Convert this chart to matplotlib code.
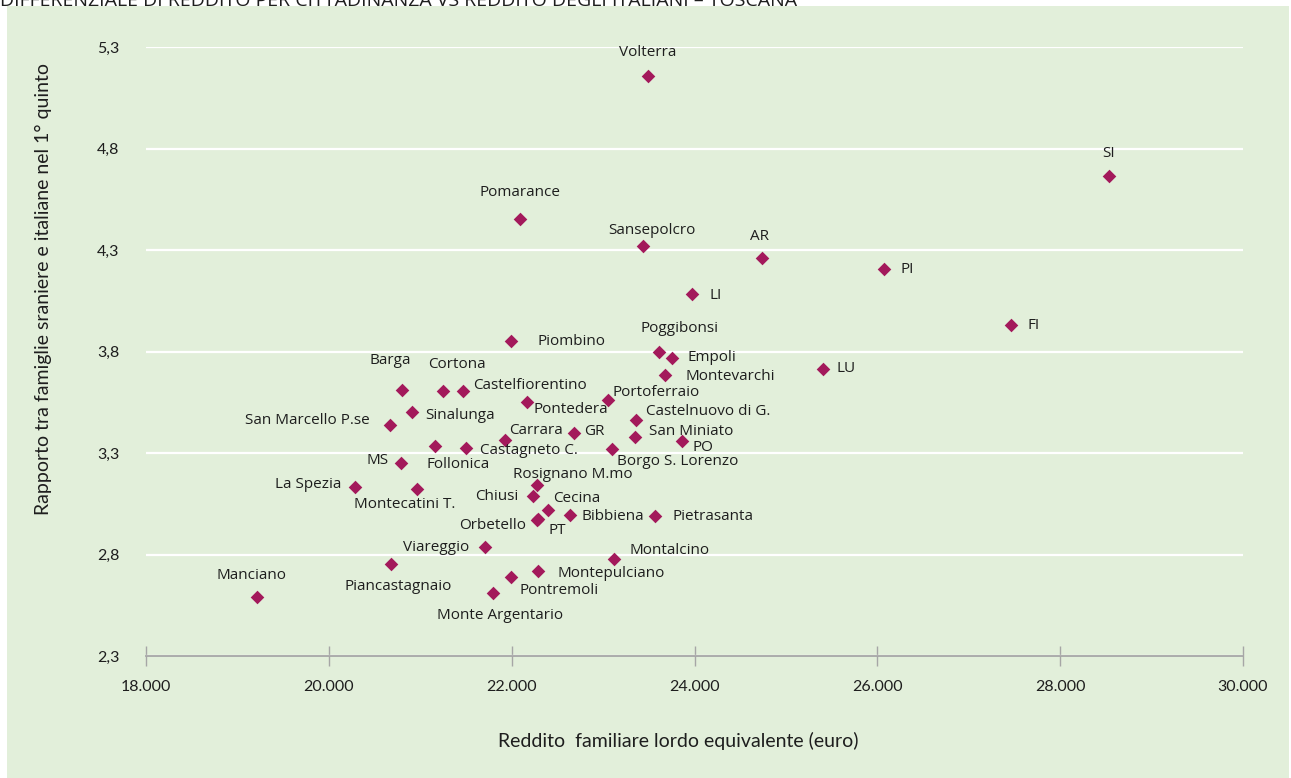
import numpy as np
import matplotlib.pyplot as plt
from matplotlib.patches import Rectangle
from matplotlib.ticker import FuncFormatter, MultipleLocator

# =========================
# dati: reddito familiare lordo equivalente vs rapporto 1° quinto
# =========================
comuni = [
    "Volterra", "SI", "Pomarance", "Sansepolcro", "AR", "PI", "LI", "FI",
    "Piombino", "Poggibonsi", "Empoli", "LU", "Montevarchi", "Barga",
    "Cortona", "Castelfiorentino", "Portoferraio", "Pontedera", "Sinalunga",
    "Castelnuovo di G.", "San Marcello P.se", "GR", "San Miniato", "Carrara",
    "PO", "Follonica", "Castagneto C.", "Borgo S. Lorenzo", "MS",
    "Rosignano M.mo", "La Spezia", "Montecatini T.", "Chiusi", "Cecina",
    "Bibbiena", "Pietrasanta", "PT", "Orbetello", "Viareggio", "Montalcino",
    "Piancastagnaio", "Montepulciano", "Pontremoli", "Monte Argentario",
    "Manciano",
]
reddito = [
    23491, 28534, 22091, 23436, 24738, 26073, 23972, 27462,
    21993, 23611, 23754, 25405, 23677, 20800,
    21249, 21468, 23054, 22168, 20910,
    23360, 20669, 22682, 23349, 21927,
    23863, 21161, 21500, 23097, 20789,
    22277, 20286, 20964, 22233, 22397,
    22638, 23568, 22288, 22280, 21708, 23119,
    20680, 22288, 21993, 21796,
    19214,
]
rapporto = [
    5.157, 4.665, 4.453, 4.320, 4.261, 4.206, 4.083, 3.930,
    3.852, 3.798, 3.768, 3.714, 3.684, 3.610,
    3.605, 3.605, 3.561, 3.551, 3.502,
    3.463, 3.438, 3.399, 3.379, 3.364,
    3.359, 3.334, 3.325, 3.320, 3.251,
    3.142, 3.133, 3.123, 3.088, 3.019,
    2.995, 2.990, 2.975, 2.972, 2.837, 2.778,
    2.753, 2.719, 2.689, 2.610,
    2.591,
]
y_ticks = [2.3, 2.8, 3.3, 3.8, 4.3, 4.8, 5.3]

# spostamento delle etichette rispetto al punto (pixel: destra, su)
offset = {
    "Volterra": (0, 24), "SI": (0, 22), "Pomarance": (0, 26),
    "Sansepolcro": (9, 15), "AR": (-2, 21), "PI": (23, 0), "LI": (24, -1),
    "FI": (23, 0), "Piombino": (60, -1), "Poggibonsi": (21, 23),
    "Empoli": (40, 0), "LU": (23, 0), "Montevarchi": (65, -1),
    "Barga": (-12, 30), "Cortona": (14, 27), "Castelfiorentino": (67, 6),
    "Portoferraio": (48, 8), "Pontedera": (44, -7), "Sinalunga": (48, -4),
    "Castelnuovo di G.": (72, 8), "San Marcello P.se": (-83, 4),
    "GR": (20, 1), "San Miniato": (56, 5), "Carrara": (31, 10),
    "PO": (21, -6), "Follonica": (23, -18), "Castagneto C.": (63, -3),
    "Borgo S. Lorenzo": (66, -13), "MS": (-23, 2),
    "Rosignano M.mo": (36, 11), "La Spezia": (-47, 2),
    "Montecatini T.": (-12, -16), "Chiusi": (-36, 0), "Cecina": (29, 12),
    "Bibbiena": (43, -2), "Pietrasanta": (58, -1), "PT": (19, -12),
    "Orbetello": (-45, -6), "Viareggio": (-49, -1), "Montalcino": (56, 8),
    "Piancastagnaio": (7, -22), "Montepulciano": (73, -3),
    "Pontremoli": (48, -13), "Monte Argentario": (7, -22),
    "Manciano": (-5, 21),
}

VERDE = "#E2EFDA"
PUNTO = "#A3195B"
TESTO = "#1E1E1E"
GRIGIO = "#A6A6A6"

W, H = 1291, 778
fig = plt.figure(figsize=(W / 100, H / 100), dpi=100)
fig.patch.set_facecolor("white")
fig.patches.append(Rectangle((7 / W, 0), (W - 9) / W, (H - 6) / H,
                             transform=fig.transFigure, facecolor=VERDE,
                             edgecolor="none", zorder=-5))

# titolo tagliato in alto (come nell'originale)
fig.text(0, 1 - 1 / H, "DIFFERENZIALE DI REDDITO PER CITTADINANZA VS REDDITO DEGLI ITALIANI \u2013 TOSCANA",
         ha="left", va="center", fontsize=14, family=["Open Sans", "DejaVu Sans"],
         color=TESTO, zorder=5)

ax = fig.add_axes([146 / W, 1 - 656 / H, (1243 - 146) / W, (656 - 47) / H])
ax.set_facecolor("none")
ax.set_xlim(18000, 30000)
ax.set_ylim(2.3, 5.3)

ax.set_yticks(y_ticks)
ax.xaxis.set_major_locator(MultipleLocator(2000))
ax.grid(axis="y", color="white", linewidth=1.6, zorder=1)
ax.set_axisbelow(True)

for s in ["top", "right", "left"]:
    ax.spines[s].set_visible(False)
ax.spines["bottom"].set_color(GRIGIO)
ax.spines["bottom"].set_linewidth(1.3)
ax.spines["bottom"].set_zorder(3)

ax.xaxis.set_major_formatter(FuncFormatter(lambda v, p: f"{int(round(v)):,}".replace(",", ".")))
ax.yaxis.set_major_formatter(FuncFormatter(lambda v, p: f"{v:.1f}".replace(".", ",")))
ax.tick_params(axis="x", direction="inout", length=14, width=1, color=GRIGIO,
               pad=10, labelsize=11.5, labelcolor=TESTO)
ax.tick_params(axis="y", length=0, pad=19, labelsize=11.5, labelcolor=TESTO)
for lab in ax.get_xticklabels() + ax.get_yticklabels():
    lab.set_family(["Lato", "DejaVu Sans"])

ax.scatter(reddito, rapporto, marker="D", s=48, color=PUNTO, linewidths=0,
           zorder=4, clip_on=False)

for nome, x, y in zip(comuni, reddito, rapporto):
    dx, dy = offset[nome]
    ax.annotate(nome, (x, y), xytext=(dx, dy), textcoords="offset pixels",
                ha="center", va="center", fontsize=11, color=TESTO,
                family=["Open Sans", "DejaVu Sans"], zorder=5)

fig.text(678 / W, 1 - 741 / H, "Reddito  familiare lordo equivalente (euro)",
         ha="center", va="center", fontsize=14, color=TESTO,
         family=["Lato", "DejaVu Sans"])
fig.text(43 / W, 1 - 289 / H, "Rapporto tra famiglie sraniere e italiane nel 1\u00b0 quinto",
         ha="center", va="center", rotation=90, fontsize=14, color=TESTO,
         family=["Lato", "DejaVu Sans"])

fig.savefig("out.png", dpi=100)
